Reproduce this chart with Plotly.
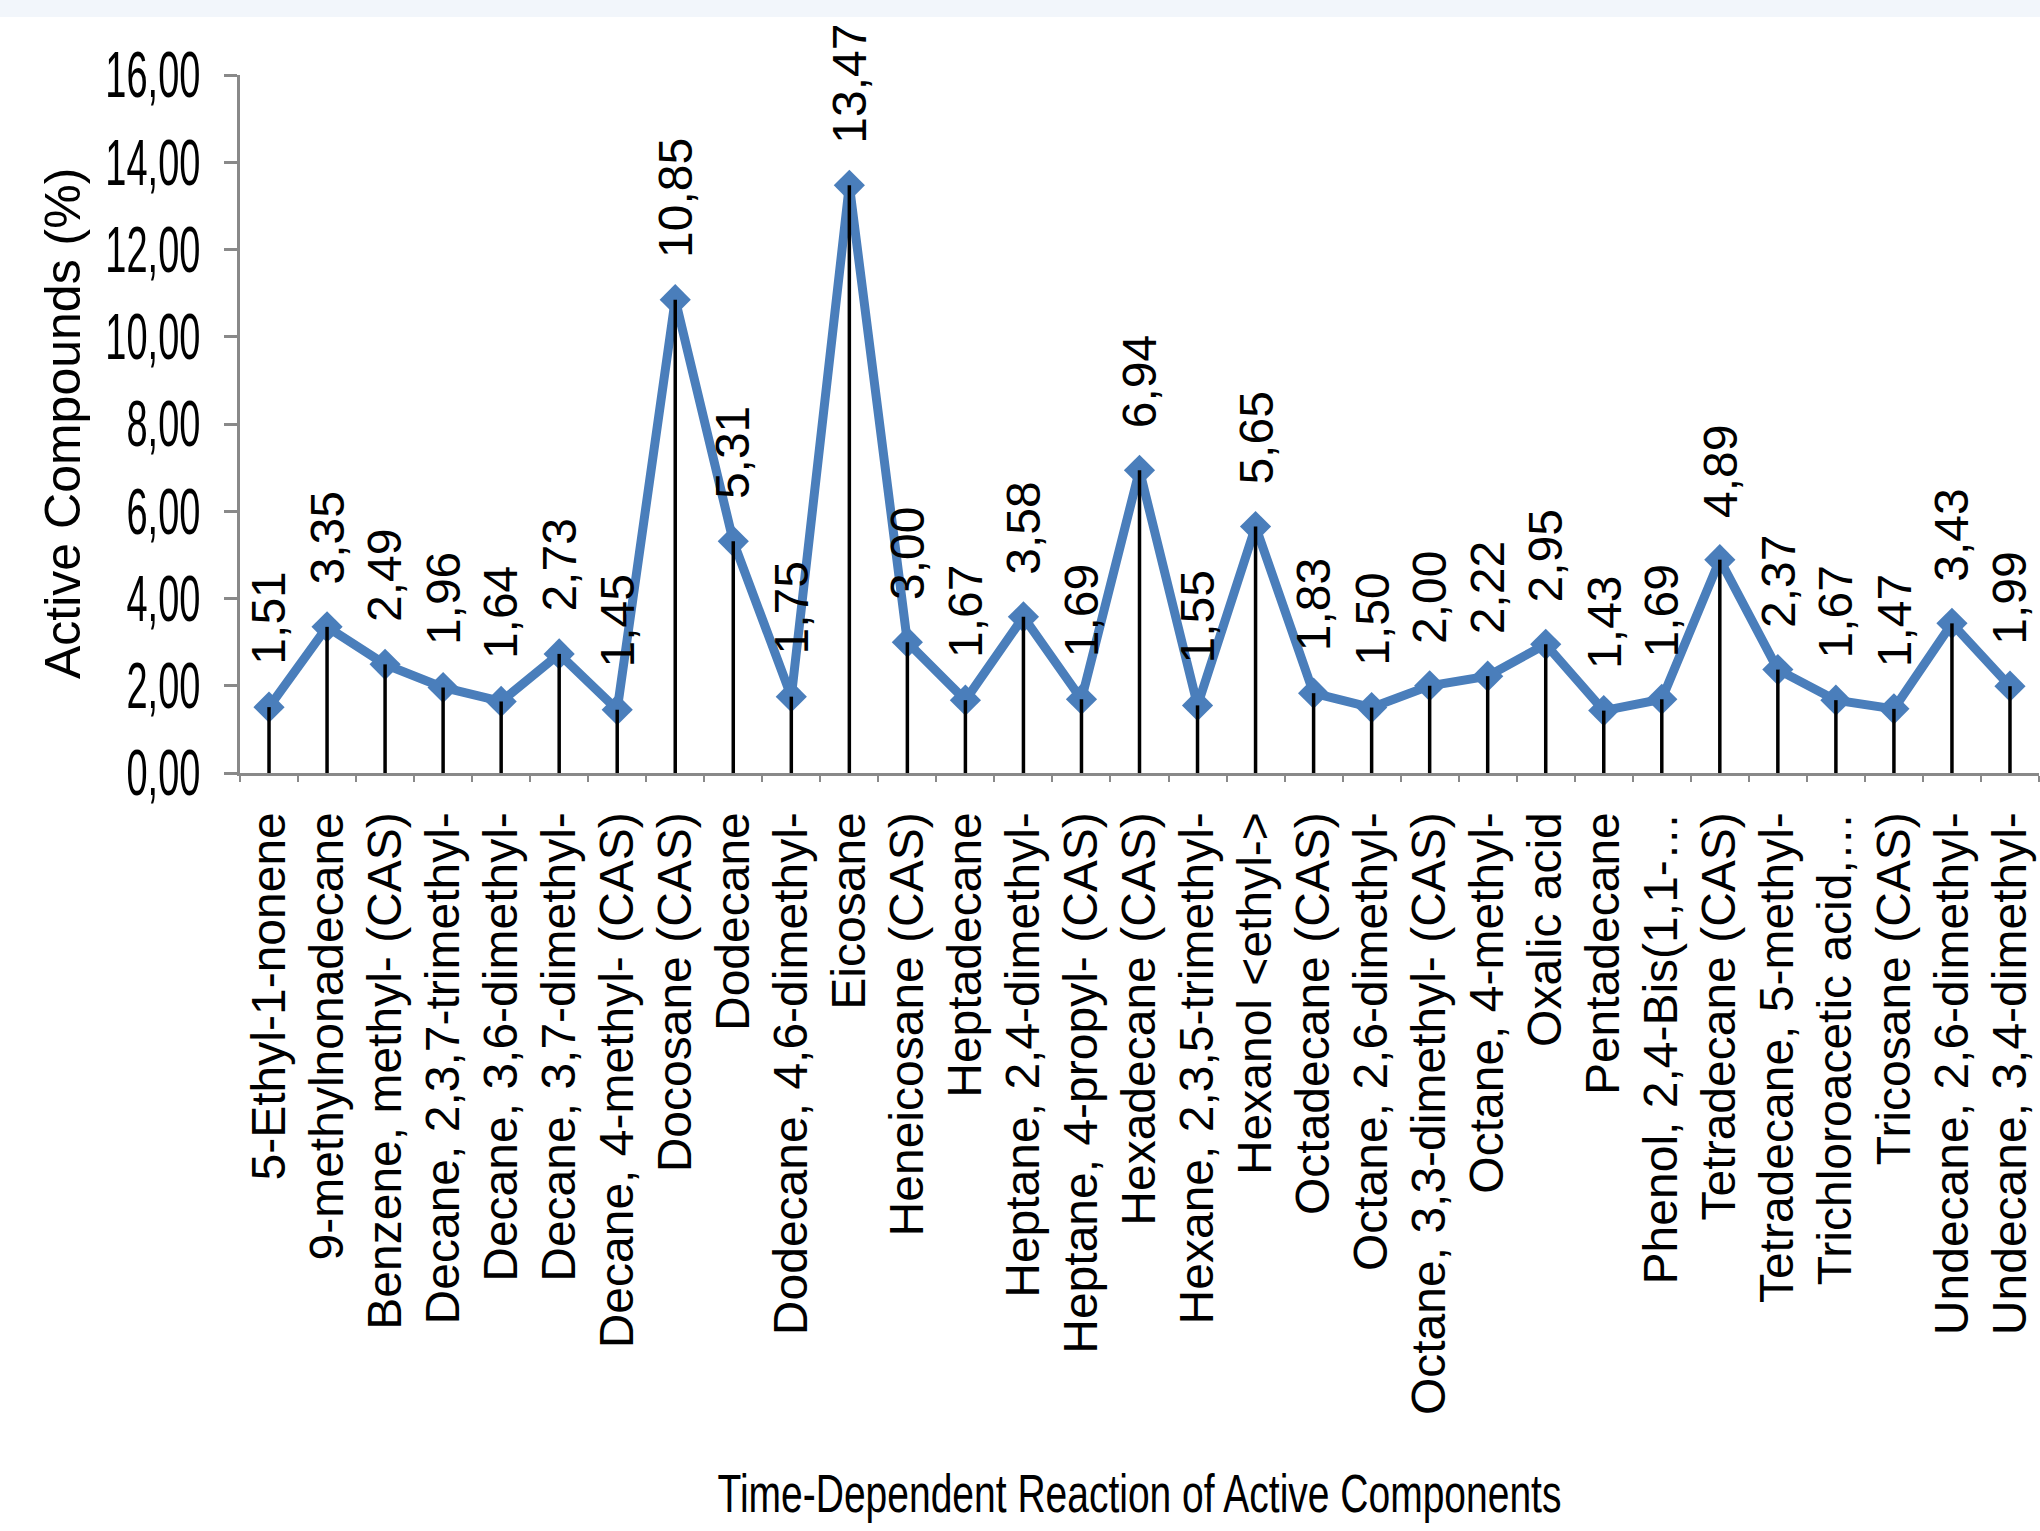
import plotly.graph_objects as go

# Compounds detected and their relative share (%)
compounds = [
    "5-Ethyl-1-nonene",
    "9-methylnonadecane",
    "Benzene, methyl- (CAS)",
    "Decane, 2,3,7-trimethyl-",
    "Decane, 3,6-dimethyl-",
    "Decane, 3,7-dimethyl-",
    "Decane, 4-methyl- (CAS)",
    "Docosane (CAS)",
    "Dodecane",
    "Dodecane, 4,6-dimethyl-",
    "Eicosane",
    "Heneicosane (CAS)",
    "Heptadecane",
    "Heptane, 2,4-dimethyl-",
    "Heptane, 4-propyl- (CAS)",
    "Hexadecane (CAS)",
    "Hexane, 2,3,5-trimethyl-",
    "Hexanol <ethyl->",
    "Octadecane (CAS)",
    "Octane, 2,6-dimethyl-",
    "Octane, 3,3-dimethyl- (CAS)",
    "Octane, 4-methyl-",
    "Oxalic acid",
    "Pentadecane",
    "Phenol, 2,4-Bis(1,1-…",
    "Tetradecane (CAS)",
    "Tetradecane, 5-methyl-",
    "Trichloroacetic acid,…",
    "Tricosane (CAS)",
    "Undecane, 2,6-dimethyl-",
    "Undecane, 3,4-dimethyl-",
]

percent = [
    1.51, 3.35, 2.49, 1.96, 1.64, 2.73, 1.45, 10.85, 5.31, 1.75,
    13.47, 3.00, 1.67, 3.58, 1.69, 6.94, 1.55, 5.65, 1.83, 1.50,
    2.00, 2.22, 2.95, 1.43, 1.69, 4.89, 2.37, 1.67, 1.47, 3.43,
    1.99,
]

y_ticks = [0, 2, 4, 6, 8, 10, 12, 14, 16]

x_title = "Time-Dependent Reaction of Active Components"
y_title = "Active Compounds (%)"

BLUE = "#4A7EBB"
AXIS_GREY = "#898989"
FONT = "Liberation Sans, Arial, sans-serif"


def comma_decimal(v):
    return f"{v:.2f}".replace(".", ",")


fig = go.Figure()

# main series: line with diamond markers
fig.add_trace(go.Scatter(
    x=compounds,
    y=percent,
    mode="lines+markers",
    line=dict(color=BLUE, width=9),
    marker=dict(symbol="diamond", size=24, color=BLUE),
    showlegend=False,
    hoverinfo="x+y",
))

# drop lines from each point down to the category axis
drop_x, drop_y = [], []
for name, v in zip(compounds, percent):
    drop_x += [name, name, None]
    drop_y += [v, 0, None]
fig.add_trace(go.Scatter(
    x=drop_x,
    y=drop_y,
    mode="lines",
    line=dict(color="black", width=3.5),
    showlegend=False,
    hoverinfo="skip",
))

# rotated value labels above every point
annotations = []
for name, v in zip(compounds, percent):
    annotations.append(dict(
        x=name, y=v, xref="x", yref="y",
        text=comma_decimal(v),
        textangle=-90,
        showarrow=False,
        xanchor="center", yanchor="bottom",
        yshift=40,
        font=dict(family=FONT, size=48, color="black"),
    ))

# vertical axis title
annotations.append(dict(
    x=-177 / 1799, y=0.5, xref="paper", yref="paper",
    text=y_title, textangle=-90, showarrow=False,
    xanchor="center", yanchor="middle",
    font=dict(family=FONT, size=50, color="black"),
))

fig.update_layout(
    width=2040,
    height=1531,
    margin=dict(l=240, r=1, t=75, b=758, pad=0),
    paper_bgcolor="white",
    plot_bgcolor="white",
    separators=", ",
    annotations=annotations,
    shapes=[dict(
        type="rect", xref="paper", yref="paper", layer="below",
        x0=-0.2, x1=1.1,
        y0=1 + (75 - 17) / 698, y1=1.2,
        fillcolor="#F2F6FB", line=dict(width=0),
    )],
    xaxis=dict(
        type="category",
        categoryorder="array",
        categoryarray=compounds,
        range=[-0.5, len(compounds) - 0.5],
        tickmode="linear", tick0=0, dtick=1,
        showline=True, linecolor=AXIS_GREY, linewidth=3,
        showgrid=False, zeroline=False,
        ticks="outside", tickson="boundaries", ticklen=6,
        tickcolor=AXIS_GREY, tickwidth=2,
        tickangle=-90,
        ticklabelstandoff=17,
        tickfont=dict(family=FONT, size=48, color="black"),
        title=dict(text=x_title, standoff=66,
                   font=dict(family=FONT, size=39, color="black")),
        automargin=False,
    ),
    yaxis=dict(
        range=[0, 16],
        tickvals=y_ticks,
        tickformat=".2f",
        showline=True, linecolor=AXIS_GREY, linewidth=3,
        showgrid=False, zeroline=False,
        ticks="outside", ticklen=13, tickcolor=AXIS_GREY, tickwidth=3,
        ticklabelstandoff=16,
        tickfont=dict(family=FONT, size=38, color="black"),
        automargin=False,
    ),
)

# The value-axis numbers and the category-axis title are set in a tall,
# narrow face: stretch those text nodes vertically about their own centre.
condense_js = """
var gd = document.getElementById('{plot_id}');
function condense(selector, sy) {
  gd.querySelectorAll(selector).forEach(function (t) {
    var b = t.getBBox();
    var cx = b.x + b.width / 2, cy = b.y + b.height / 2;
    var tr = t.getAttribute('transform') || '';
    t.setAttribute('transform', tr + ' translate(' + cx + ',' + cy + ') scale(1,' + sy +
      ') translate(' + (-cx) + ',' + (-cy) + ')');
  });
}
condense('.ytick text', 1.7);
condense('.g-xtitle text', 1.4);
"""

fig.write_html("out.html", post_script=condense_js)
